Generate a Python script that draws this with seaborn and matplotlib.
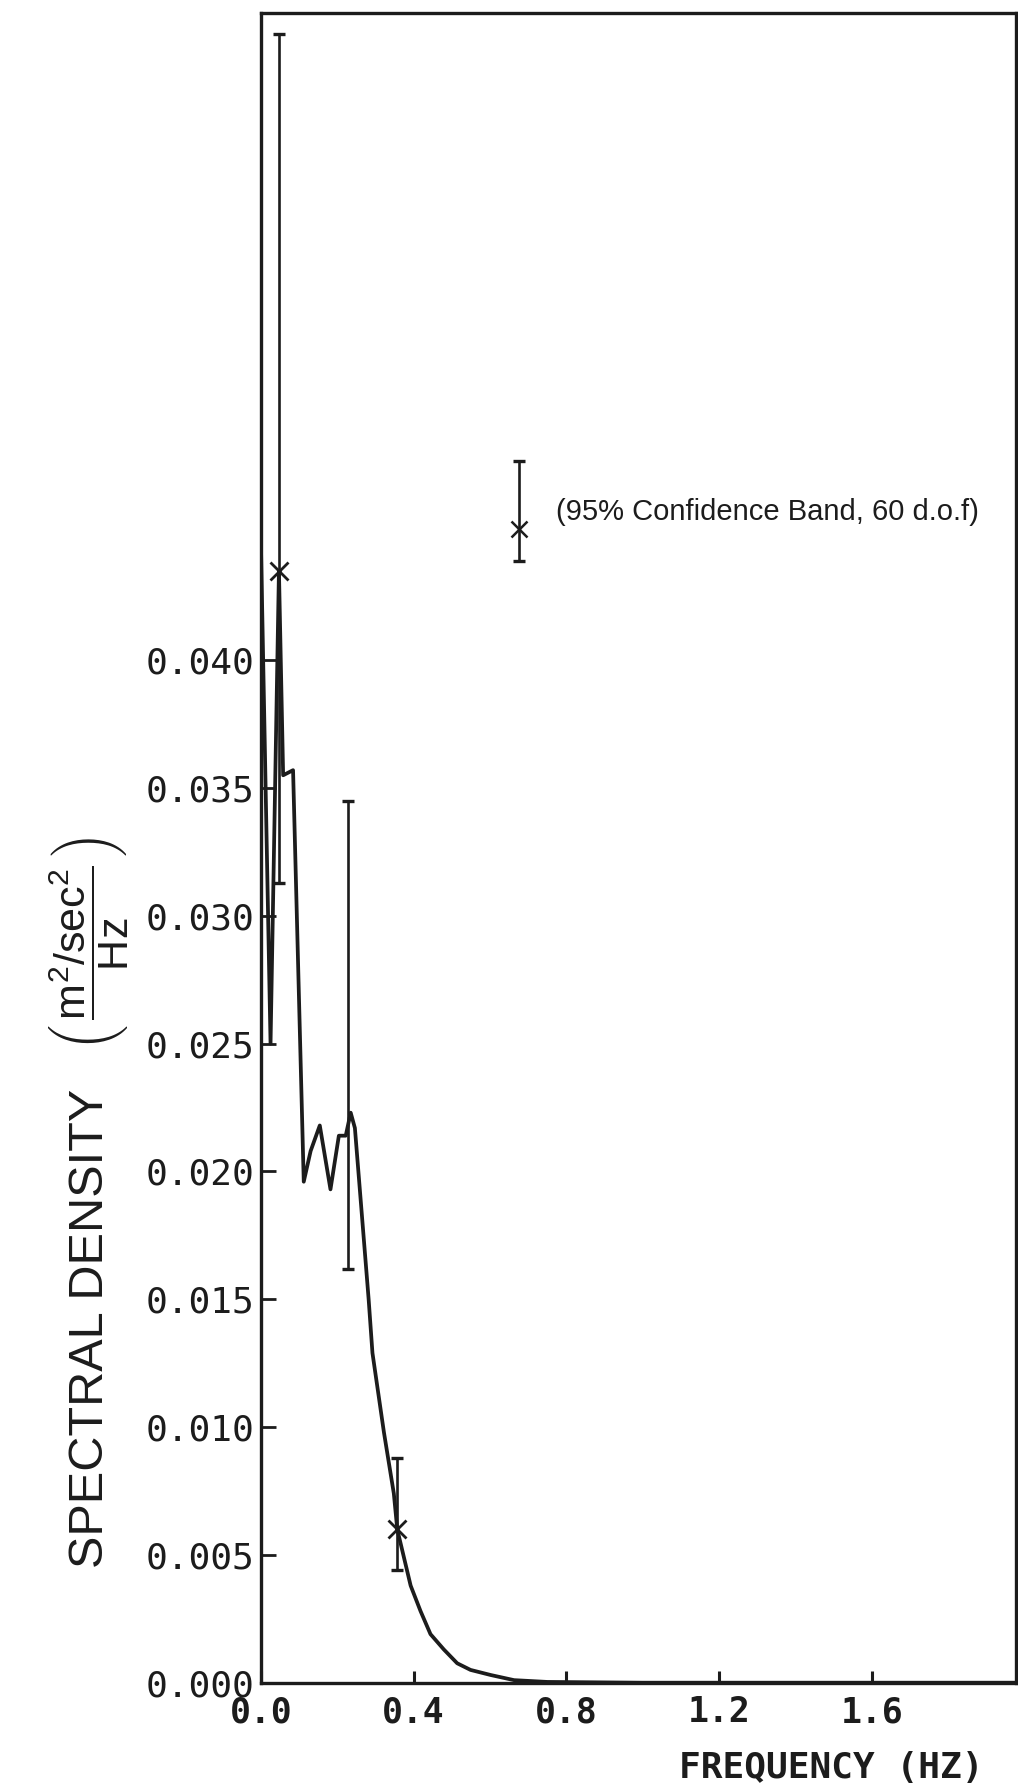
import numpy as np
import matplotlib
matplotlib.use("Agg")
import matplotlib.pyplot as plt
import seaborn as sns

# Spectral density of water particle velocity
freq_hz = [0.000, 0.025, 0.047, 0.058, 0.084, 0.112, 0.130, 0.154, 0.182,
           0.204, 0.222, 0.235, 0.246, 0.282, 0.292, 0.322, 0.348, 0.357,
           0.392, 0.418, 0.444, 0.479, 0.514, 0.549, 0.602, 0.663, 0.750,
           1.000, 1.500, 1.980]
density = [0.0444, 0.0250, 0.0435, 0.0355, 0.0357, 0.0196, 0.0208, 0.0218,
           0.0193, 0.0214, 0.0214, 0.0223, 0.0217, 0.0150, 0.0129, 0.0098,
           0.0074, 0.0060, 0.0038, 0.0028, 0.0019, 0.0013, 0.00076, 0.0005,
           0.0003, 0.0001, 0.00003, 0.0, 0.0, 0.0]

# 95% confidence bands drawn on the spectrum
band_freq = [0.047, 0.229, 0.357]
band_center = [0.0435, 0.0223, 0.0060]
band_low = [0.0313, 0.0162, 0.0044]
band_high = [0.0645, 0.0345, 0.0088]
band_star = [True, False, True]

# key glyph for the confidence band
key_freq = 0.677
key_center = 0.04515
key_low = 0.0439
key_high = 0.0478
key_text = "(95% Confidence Band, 60 d.o.f)"

x_ticks = [0.0, 0.4, 0.8, 1.2, 1.6]
y_ticks = [0.000, 0.005, 0.010, 0.015, 0.020, 0.025, 0.030, 0.035, 0.040]

sns.set_theme(style="white")
plt.rcParams["font.family"] = ["DejaVu Sans Mono", "DejaVu Sans"]
plt.rcParams["mathtext.fontset"] = "custom"
plt.rcParams["mathtext.rm"] = "Liberation Sans"
plt.rcParams["mathtext.it"] = "Liberation Sans:italic"

ink = "#1c1c1c"

fig = plt.figure(figsize=(10.18, 17.89), dpi=100)
fig.patch.set_facecolor("white")
ax = fig.add_axes([261 / 1018, 1 - 1682.7 / 1789, 755 / 1018, (1682.7 - 13.3) / 1789])
ax.set_facecolor("white")

sns.lineplot(x=freq_hz, y=density, ax=ax, color=ink, linewidth=2.7,
             sort=False, estimator=None)

for f, c, lo, hi, star in zip(band_freq, band_center, band_low, band_high, band_star):
    ax.errorbar([f], [c], yerr=[[c - lo], [hi - c]], fmt="none", ecolor=ink,
                elinewidth=1.9, capsize=4, capthick=2.4)
    if star:
        ax.plot([f], [c], marker="x", markersize=13, markeredgewidth=2.0,
                color=ink, linestyle="none")

ax.errorbar([key_freq], [key_center],
            yerr=[[key_center - key_low], [key_high - key_center]],
            fmt="none", ecolor=ink, elinewidth=1.9, capsize=4, capthick=2.4)
ax.plot([key_freq], [key_center], marker="x", markersize=11,
        markeredgewidth=1.8, color=ink, linestyle="none")
ax.text(0.774, 0.0458, key_text, fontsize=21, family="Liberation Sans",
        color=ink, ha="left", va="center")

ax.set_xlim(0, 1.978)
ax.set_ylim(0, 0.06531)
ax.set_xticks(x_ticks)
ax.set_xticklabels([f"{v:.1f}" for v in x_ticks], fontsize=25,
                   fontweight="bold", color=ink)
ax.set_yticks(y_ticks)
ax.set_yticklabels([f"{v:.3f}" for v in y_ticks], fontsize=26, color=ink)
ax.tick_params(axis="x", direction="in", length=9, width=2.2, pad=9,
               bottom=True, top=False, colors=ink)
ax.tick_params(axis="y", direction="in", length=11, width=2.0, pad=5,
               left=True, right=False, colors=ink)
for side in ["left", "right", "top", "bottom"]:
    ax.spines[side].set_visible(True)
    ax.spines[side].set_color(ink)
    ax.spines[side].set_linewidth(2.4)
ax.set_xlabel("")
ax.set_ylabel("")
ax.grid(False)

fig.text(831 / 1018, 1 - 1768 / 1789, "FREQUENCY (HZ)", fontsize=26,
         fontweight="bold", color=ink, ha="center", va="center")
fig.text(91 / 1018, 1 - 1328 / 1789, "SPECTRAL DENSITY", rotation=90,
         fontsize=35, family="Liberation Sans", color=ink,
         ha="center", va="center")
fig.text(88 / 1018, 1 - 944 / 1789,
         r"$\left(\,\dfrac{\mathrm{m}^{2}\mathrm{/sec}^{2}}{\mathrm{Hz}}\,\right)$",
         rotation=90, fontsize=31, color=ink, ha="center", va="center")

fig.savefig("out.png", dpi=100, facecolor="white")
